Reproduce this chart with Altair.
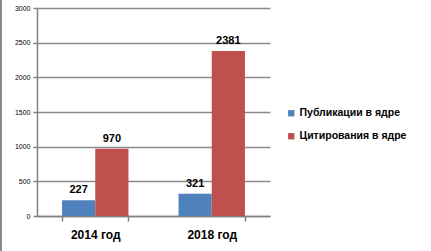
import altair as alt
import pandas as pd

years = ["2014 год", "2018 год"]
series = ["Публикации в ядре", "Цитирования в ядре"]
publications = [227, 321]
citations = [970, 2381]
colors = ["#4F81BD", "#C0504D"]
y_ticks = [0, 500, 1000, 1500, 2000, 2500, 3000]

rows = []
for i, y in enumerate(years):
    rows.append({"year": y, "series": series[0], "value": publications[i]})
    rows.append({"year": y, "series": series[1], "value": citations[i]})
df = pd.DataFrame(rows)

W, H = 233, 208
FONT = "Liberation Sans"

x = alt.X("year:N", title=None, sort=years,
          scale=alt.Scale(paddingInner=0.43, paddingOuter=0.215),
          axis=alt.Axis(labelAngle=0, labelFontSize=12, labelFontWeight="bold",
                        labelColor="#000000", labelPadding=8, tickBand="extent",
                        tickSize=5, tickColor="#808080", domainColor="#808080",
                        domainWidth=1.5, tickWidth=1.5, grid=False, labelFont=FONT))
y = alt.Y("value:Q", title=None,
          scale=alt.Scale(domain=[0, 3000], nice=False),
          axis=alt.Axis(values=y_ticks, labelFontSize=7, tickCount=7,
                        format="d", labelOverlap=False, labelFlush=False,
                        labelColor="#000000", tickSize=4, tickColor="#808080",
                        domainColor="#808080", domainWidth=1.5, tickWidth=1.5,
                        gridColor="#8a8a8a", gridWidth=1.5, labelPadding=3,
                        labelFont=FONT))
xo = alt.XOffset("series:N", sort=series)
color = alt.Color("series:N", sort=series,
                  scale=alt.Scale(domain=series, range=colors),
                  legend=alt.Legend(title=None, orient="none", legendX=249, legendY=100,
                                    symbolType="square", symbolSize=40,
                                    symbolStrokeWidth=0, labelFontSize=10.5,
                                    labelFontWeight="bold", labelFont=FONT,
                                    labelColor="#000000", rowPadding=12,
                                    symbolOffset=0, labelOffset=3))

base = alt.Chart(df)
bars = base.mark_bar().encode(x=x, y=y, color=color, xOffset=xo)
labels = base.mark_text(dy=-10, fontSize=11, fontWeight="bold", font=FONT,
                        color="#000000").encode(x=x, y=y, xOffset=xo, text="value:Q")

border_left = alt.Chart(df).mark_rule(color="#8a8a8a", strokeWidth=2).encode(
    x=alt.value(-36), y=alt.value(-10), y2=alt.value(H + 40))
border_bottom = alt.Chart(df).mark_rule(color="#8a8a8a", strokeWidth=2).encode(
    x=alt.value(-36), x2=alt.value(431), y=alt.value(H + 40))

chart = alt.layer(bars, labels, border_left, border_bottom).properties(
    width=W, height=H,
    background="white",
    autosize=alt.AutoSizeParams(type="none"),
    padding={"left": 37, "top": 8, "right": 161, "bottom": 35},
).configure_view(strokeWidth=0, stroke="transparent")

chart.save("out.html", embed_options={"renderer": "svg", "actions": False})
